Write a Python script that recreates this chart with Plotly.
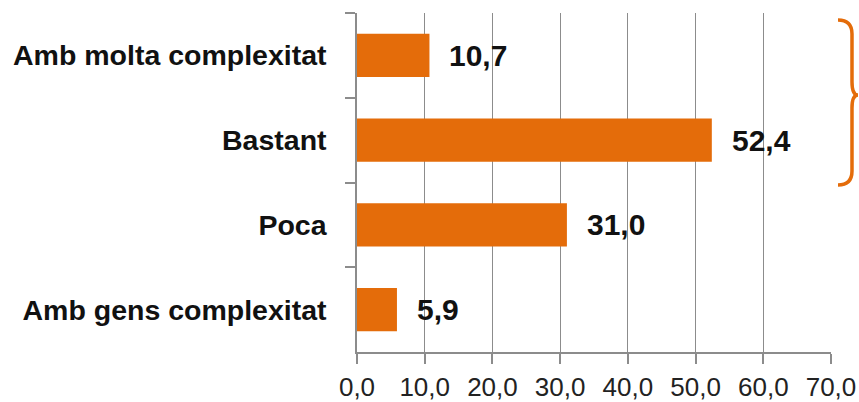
import plotly.graph_objects as go

# dades
categories = ['Amb molta complexitat', 'Bastant', 'Poca', 'Amb gens complexitat']
values = [10.7, 52.4, 31.0, 5.9]
x_ticks = [0, 10, 20, 30, 40, 50, 60, 70]
x_tick_labels = ['0,0', '10,0', '20,0', '30,0', '40,0', '50,0', '60,0', '70,0']

ORANGE = '#E46C0A'
GRID = '#8C8C8C'
FONT = 'Liberation Sans, Arial, sans-serif'

W, H = 859, 402
L, R, T, B = 357, 28, 13, 50


def fmt(v):
    return f"{v:.1f}".replace('.', ',')


def px(x, y):
    """pixel -> paper"""
    return (x - L) / (W - L - R), (H - B - y) / (H - T - B)


def brace_path():
    pts = [
        ('M', [(838, 20)]),
        ('Q', [(852, 20), (852, 34)]),
        ('L', [(852, 82)]),
        ('Q', [(852, 95), (858, 95)]),
        ('Q', [(852, 95), (852, 108)]),
        ('L', [(852, 171)]),
        ('Q', [(852, 185), (838, 185)]),
    ]
    s = ''
    for cmd, coords in pts:
        s += cmd + ' ' + ' '.join('%.5f,%.5f' % px(x, y) for x, y in coords) + ' '
    return s.strip()


fig = go.Figure(go.Bar(
    x=values,
    y=categories,
    orientation='h',
    marker=dict(color=ORANGE, line=dict(width=0)),
    hoverinfo='skip',
))

for v, c in zip(values, categories):
    fig.add_annotation(
        x=v, y=c, text=fmt(v), showarrow=False,
        xanchor='left', yanchor='middle', xshift=18,
        font=dict(family=FONT, size=30, color='#111111', weight='bold'),
    )

fig.add_shape(
    type='path', xref='paper', yref='paper', path=brace_path(),
    line=dict(color=ORANGE, width=3.5),
)

fig.update_layout(
    width=W, height=H,
    margin=dict(l=L, r=R, t=T, b=B),
    paper_bgcolor='white',
    plot_bgcolor='white',
    bargap=0.49,
    showlegend=False,
    font=dict(family=FONT),
)

fig.update_xaxes(
    range=[0, 70],
    tickvals=x_ticks,
    ticktext=x_tick_labels,
    automargin=False,
    showgrid=True, gridcolor=GRID, gridwidth=1.3,
    zeroline=False,
    showline=True, linecolor=GRID, linewidth=1.5,
    ticks='outside', ticklen=10, tickcolor=GRID, tickwidth=1.5,
    tickfont=dict(family=FONT, size=26, color='#222222'),
    ticklabelstandoff=1,
)

fig.update_yaxes(
    categoryorder='array', categoryarray=categories,
    autorange='reversed',
    automargin=False,
    showgrid=False, zeroline=False,
    showline=True, linecolor=GRID, linewidth=1.5,
    ticks='outside', ticklen=10, tickcolor=GRID, tickwidth=1.5,
    tickson='boundaries',
    tickfont=dict(family=FONT, size=28.5, color='#111111', weight='bold'),
    ticklabelstandoff=23,
)

# treure el marge del body perque la figura ocupi tota la finestra
fig.write_html(
    "out.html",
    config={'displayModeBar': False},
    post_script="document.body.style.margin='0';document.body.style.overflow='hidden';",
)
